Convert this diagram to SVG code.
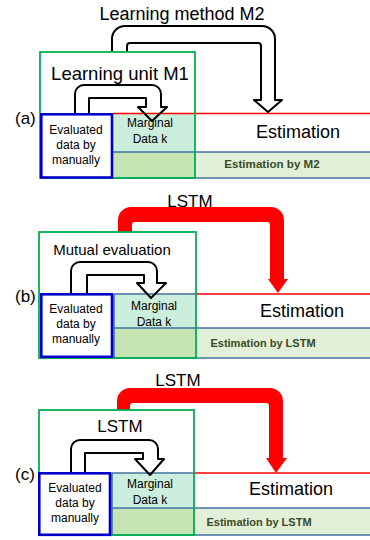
<svg xmlns="http://www.w3.org/2000/svg" width="370" height="540" viewBox="0 0 370 540">
  <style>
    text { font-family: "Liberation Sans", Arial, sans-serif; fill: #000; }
    .title { font-size: 18px; text-anchor: middle; }
    .label { font-size: 17px; }
    .small { font-size: 12px; text-anchor: middle; }
    .est { font-size: 18px; text-anchor: middle; }
    .estby { font-size: 11px; font-weight: bold; text-anchor: middle; fill: #3b4a25; }
    .unit { fill: none; stroke: #00b050; stroke-width: 1.8; }
    .manual { fill: #fff; stroke: #0000c8; stroke-width: 2.6; }
    .mint { fill: #cbeedd; }
    .leaf { fill: #c4e5b3; }
    .pale { fill: #e2f0d9; }
    .steel { stroke: #41719c; stroke-width: 1.6; fill: none; }
    .redline { stroke: #ff0000; stroke-width: 1.6; }
    .hollow { fill: none; stroke: #000; stroke-width: 2; stroke-linejoin: round; }
    .hollowbig { fill: #fff; stroke: #000; stroke-width: 2; stroke-linejoin: round; }
    .solid { fill: #ff0000; stroke: none; }
  </style>

  <!-- ===== Panel (a) ===== -->
  <g id="panel-a">
    <g id="a-regions">
      <rect class="mint" x="113" y="114" width="82" height="38"/>
      <rect class="leaf" x="113" y="152" width="82" height="26"/>
      <rect class="pale" x="195" y="152" width="175" height="26"/>
      <line class="redline" x1="113" y1="113.5" x2="370" y2="113.5"/>
      <line class="steel" x1="113" y1="152" x2="370" y2="152"/>
      <line class="steel" x1="113" y1="178" x2="370" y2="178"/>
    </g>
    <g id="a-connectors">
      <path class="hollowbig" d="M112,52 V39 A13,13 0 0 1 125,26 H262 A13,13 0 0 1 275,39 V100 H282 L268,112 L254,100 H261 V46 Q261,43 258,43 H130 Q127,43 127,46 V52"/>
      <path class="hollow" d="M75,114 V94 A9,9 0 0 1 84,85 H152 A9,9 0 0 1 161,94 V107 H167 L152,121 L138,107 H146 V98 H89 V114"/>
    </g>
    <g id="a-unit">
      <rect class="unit" x="40" y="52" width="155" height="126"/>
    </g>
    <g id="a-manual">
      <rect class="manual" x="41.3" y="114.3" width="70.7" height="63.2"/>
      <text class="small" x="76" y="134">Evaluated</text>
      <text class="small" x="76" y="149">data by</text>
      <text class="small" x="76" y="164">manually</text>
    </g>
    <g id="a-marginal">
      <text class="small" x="150" y="127">Marginal</text>
      <text class="small" x="150" y="143">Data k</text>
    </g>
    <g id="a-estimation">
      <text class="est" x="298" y="138">Estimation</text>
      <text class="estby" x="272" y="168" style="font-size:11.6px">Estimation by M2</text>
    </g>
    <text class="title" x="182" y="20">Learning method M2</text>
    <text class="title" x="120" y="80" style="font-size:18.5px">Learning unit M1</text>
    <text class="label" x="15" y="124">(a)</text>
  </g>

  <!-- ===== Panel (b) ===== -->
  <g id="panel-b">
    <g id="b-regions">
      <rect class="mint" x="114" y="294" width="82" height="34"/>
      <rect class="leaf" x="114" y="328" width="82" height="30"/>
      <rect class="pale" x="196" y="328" width="174" height="30"/>
      <line class="redline" x1="196" y1="294" x2="370" y2="294"/>
      <line class="steel" x1="114" y1="294" x2="196" y2="294"/>
      <line class="steel" x1="114" y1="294" x2="114" y2="358"/>
      <line class="steel" x1="114" y1="328" x2="370" y2="328"/>
      <line class="steel" x1="114" y1="358" x2="370" y2="358"/>
    </g>
    <g id="b-connectors">
      <path class="solid" d="M118,232 V220 A13,13 0 0 1 131,207 H271 A13,13 0 0 1 284,220 V279 H288 L278,293 L268,279 H270 V225 Q270,222 267,222 H135 Q132,222 132,225 V232 Z"/>
      <path class="hollow" d="M71,294 V271 A9,9 0 0 1 80,262 H148 A9,9 0 0 1 157,271 V283 H166 L151,298 L137,283 H144 V275 H87 V294"/>
    </g>
    <g id="b-unit">
      <rect class="unit" x="39" y="232" width="157" height="126"/>
    </g>
    <g id="b-manual">
      <rect class="manual" x="41.3" y="294.3" width="70.7" height="62.5"/>
      <text class="small" x="76" y="313">Evaluated</text>
      <text class="small" x="76" y="328">data by</text>
      <text class="small" x="76" y="343">manually</text>
    </g>
    <g id="b-marginal">
      <text class="small" x="154" y="310">Marginal</text>
      <text class="small" x="154" y="326">Data k</text>
    </g>
    <g id="b-estimation">
      <text class="est" x="302" y="317">Estimation</text>
      <text class="estby" x="263" y="347">Estimation by LSTM</text>
    </g>
    <text class="title" x="190" y="207" style="font-size:17px">LSTM</text>
    <text class="title" x="112" y="255" style="font-size:15px">Mutual evaluation</text>
    <text class="label" x="15" y="302">(b)</text>
  </g>

  <!-- ===== Panel (c) ===== -->
  <g id="panel-c">
    <g id="c-regions">
      <rect class="mint" x="112" y="473" width="82" height="35"/>
      <rect class="leaf" x="112" y="508" width="82" height="27"/>
      <rect class="pale" x="194" y="508" width="176" height="27"/>
      <line class="redline" x1="194" y1="473" x2="370" y2="473"/>
      <line class="steel" x1="112" y1="473" x2="194" y2="473"/>
      <line class="steel" x1="112" y1="473" x2="112" y2="535"/>
      <line class="steel" x1="112" y1="508" x2="370" y2="508"/>
      <line class="steel" x1="112" y1="535" x2="370" y2="535"/>
    </g>
    <g id="c-connectors">
      <path class="solid" d="M117,410 V401 A13,13 0 0 1 130,388 H270 A13,13 0 0 1 283,401 V458 H287 L276,473 L266,458 H269 V406 Q269,403 266,403 H133 Q130,403 130,406 V410 Z"/>
      <path class="hollow" d="M71,473 V449 A9,9 0 0 1 80,440 H149 A9,9 0 0 1 158,449 V459 H164 L150,475 L135,459 H143 V453 H85 V473"/>
    </g>
    <g id="c-unit">
      <rect class="unit" x="39" y="410" width="155" height="125"/>
    </g>
    <g id="c-manual">
      <rect class="manual" x="39.3" y="473.3" width="70.7" height="61.5"/>
      <text class="small" x="75" y="492">Evaluated</text>
      <text class="small" x="75" y="507">data by</text>
      <text class="small" x="75" y="522">manually</text>
    </g>
    <g id="c-marginal">
      <text class="small" x="150" y="488">Marginal</text>
      <text class="small" x="150" y="504">Data k</text>
    </g>
    <g id="c-estimation">
      <text class="est" x="291" y="495">Estimation</text>
      <text class="estby" x="259" y="526">Estimation by LSTM</text>
    </g>
    <text class="title" x="178" y="386" style="font-size:17px">LSTM</text>
    <text class="title" x="120" y="432" style="font-size:17px">LSTM</text>
    <text class="label" x="15" y="480">(c)</text>
  </g>
</svg>
